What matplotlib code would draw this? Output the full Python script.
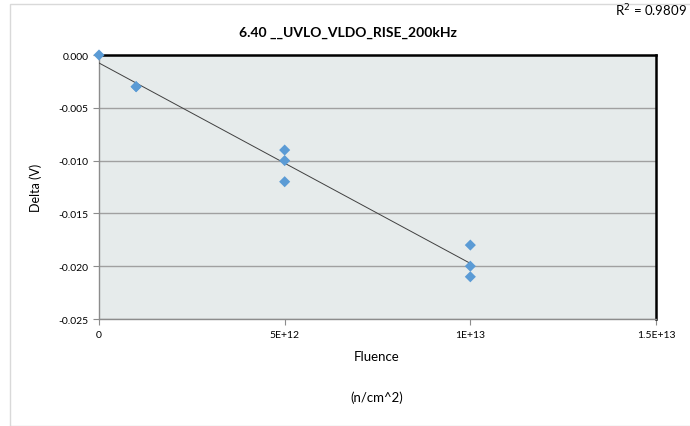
import numpy as np
import matplotlib.pyplot as plt
from matplotlib.patches import Rectangle

plt.rcParams['font.family'] = ['Lato', 'DejaVu Sans']

# fluence (n/cm^2) and delta (V)
fluence = [0, 1e12, 1e12, 5e12, 5e12, 5e12, 1e13, 1e13, 1e13]
delta = [0.0, -0.003, -0.003, -0.009, -0.010, -0.012, -0.018, -0.020, -0.021]
x_ticks = [0, 5e12, 1e13, 1.5e13]
x_labels = ['0', '5E+12', '1E+13', '1.5E+13']
y_ticks = [0.0, -0.005, -0.010, -0.015, -0.020, -0.025]
title = '6.40 __UVLO_VLDO_RISE_200kHz'
r2_text = 'R$^2$ = 0.9809'

fig = plt.figure(figsize=(6.9, 4.27), dpi=100)
fig.patches.append(Rectangle((10 / 690, 0.5 / 427), 1.0, 421.5 / 427, transform=fig.transFigure,
                             fill=False, edgecolor='#d9d9d9', linewidth=1.0))
ax = fig.add_axes([99 / 690, 1 - 320 / 427, (656 - 99) / 690, (320 - 56) / 427])
ax.set_facecolor('#e6ebeb')

# linear trend
x = np.array(fluence)
y = np.array(delta)
m, b = np.polyfit(x, y, 1)
xs = np.array([0, 1e13])
ax.plot(xs, m * xs + b, color='#404040', linewidth=0.7, zorder=3)

ax.scatter(fluence, delta, marker='D', s=32, color='#5b9bd5', zorder=4, clip_on=False,
           edgecolors='none')

ax.set_xlim(0, 1.5e13)
ax.set_ylim(-0.025, 0.0)
ax.set_xticks(x_ticks)
ax.set_xticklabels(x_labels)
ax.set_yticks(y_ticks)
ax.set_yticklabels(['%.3f' % v for v in y_ticks])
ax.grid(axis='y', color='#a0a0a0', linewidth=1.0)
ax.set_axisbelow(True)

for s in ['top', 'right']:
    ax.spines[s].set_color('black')
    ax.spines[s].set_linewidth(1.8)
for s in ['left', 'bottom']:
    ax.spines[s].set_color('#8c8c8c')
    ax.spines[s].set_linewidth(1.0)
ax.tick_params(axis='both', labelsize=7.5, color='#8c8c8c', length=4, width=0.8)
ax.tick_params(axis='x', pad=4)

fig.text(348 / 690, 1 - 33 / 427, title, ha='center', va='center', fontsize=10, fontweight='bold')
fig.text(687 / 690, 1 - 11 / 427, r2_text, ha='right', va='center', fontsize=9.5)
fig.text(36 / 690, 1 - 188 / 427, 'Delta (V)', ha='center', va='center', rotation=90, fontsize=9)
fig.text(377 / 690, 1 - 357 / 427, 'Fluence', ha='center', va='center', fontsize=9.5)
fig.text(377 / 690, 1 - 398 / 427, '(n/cm^2)', ha='center', va='center', fontsize=9.5)

fig.savefig('out.png', dpi=100)
